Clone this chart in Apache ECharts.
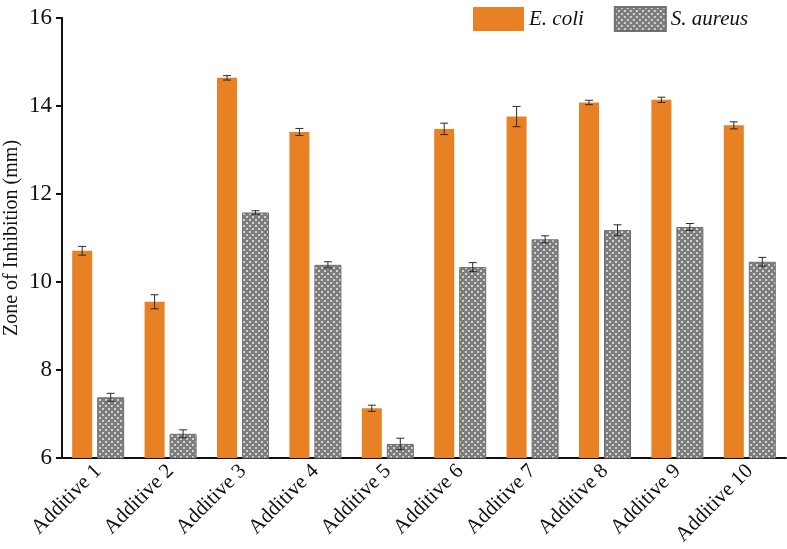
<!DOCTYPE html>
<html>
<head>
<meta charset="utf-8">
<script src="https://cdn.jsdelivr.net/npm/echarts@6/dist/echarts.min.js"></script>
<style>
  html, body { margin: 0; padding: 0; background: #fff; }
  #chart { width: 787px; height: 549px; }
</style>
</head>
<body>
<div id="chart"></div>
<script>
const categories = ["Additive 1", "Additive 2", "Additive 3", "Additive 4", "Additive 5",
  "Additive 6", "Additive 7", "Additive 8", "Additive 9", "Additive 10"];
const ecoli = [10.71, 9.55, 14.64, 13.41, 7.13, 13.48, 13.76, 14.08, 14.14, 13.56];
const ecoliErr = [0.1, 0.16, 0.05, 0.08, 0.07, 0.13, 0.23, 0.05, 0.06, 0.08];
const saureus = [7.38, 6.55, 11.58, 10.39, 6.32, 10.34, 10.97, 11.18, 11.25, 10.46];
const saureusErr = [0.09, 0.09, 0.04, 0.07, 0.13, 0.1, 0.08, 0.12, 0.08, 0.1];

// crosshatch tile for S. aureus bars
function hatch() {
  const c = document.createElement("canvas");
  c.width = 6; c.height = 6;
  const g = c.getContext("2d");
  g.fillStyle = "#7c7c7c";
  g.fillRect(0, 0, 6, 6);
  g.fillStyle = "#d2d2d2";
  g.fillRect(0, 0, 2, 2);
  g.fillRect(3, 3, 2, 2);
  return c;
}

const ORANGE_W = 20, GREY_W = 27, GAP = 5;
const half = (ORANGE_W + GAP + GREY_W) / 2;
const offOrange = -half + ORANGE_W / 2;
const offGrey = -half + ORANGE_W + GAP + GREY_W / 2;

function errRender(offset) {
  return function (params, api) {
    const i = api.value(0), v = api.value(1), e = api.value(2);
    const hi = api.coord([i, v + e]);
    const lo = api.coord([i, v - e]);
    const x = hi[0] + offset, w = 4;
    const st = { stroke: "#2a2a2a", lineWidth: 1 };
    return {
      type: "group",
      children: [
        { type: "line", shape: { x1: x, y1: hi[1], x2: x, y2: lo[1] }, style: st },
        { type: "line", shape: { x1: x - w, y1: hi[1], x2: x + w, y2: hi[1] }, style: st },
        { type: "line", shape: { x1: x - w, y1: lo[1], x2: x + w, y2: lo[1] }, style: st },
      ],
    };
  };
}

const font = "Liberation Serif";
const chart = echarts.init(document.getElementById("chart"));

chart.setOption({
  animation: false,
  textStyle: { fontFamily: font },
  grid: { left: 62, right: 1, top: 18, bottom: 91, outerBoundsMode: "none", containLabel: false },
  legend: {
    left: 468,
    top: 1,
    itemWidth: 51,
    itemHeight: 24,
    itemGap: 30,
    icon: "rect",
    textStyle: { fontFamily: font, fontSize: 21, fontStyle: "italic", color: "#111" },
    data: ["E. coli", "S. aureus"],
  },
  xAxis: {
    type: "category",
    data: categories,
    axisLine: { lineStyle: { color: "#111", width: 2 } },
    axisTick: { show: false },
    axisLabel: { rotate: 45, interval: 0, margin: 10, fontSize: 21, color: "#111", fontFamily: font },
  },
  yAxis: {
    type: "value",
    min: 6,
    max: 16,
    interval: 2,
    name: "Zone of Inhibition (mm)",
    nameLocation: "middle",
    nameGap: 40,
    nameMoveOverlap: false,
    nameTextStyle: { fontSize: 20, color: "#111", fontFamily: font },
    axisLine: { show: true, lineStyle: { color: "#111", width: 2 } },
    axisTick: { show: true, inside: false, length: 6, lineStyle: { color: "#111", width: 2 } },
    axisLabel: { fontSize: 23, color: "#111", margin: 10, fontFamily: font },
    splitLine: { show: false },
  },
  series: [
    {
      name: "E. coli",
      type: "bar",
      barWidth: ORANGE_W,
      barGap: "25%",
      data: ecoli,
      itemStyle: { color: "#e88124" },
    },
    {
      name: "S. aureus",
      type: "bar",
      barWidth: GREY_W,
      data: saureus,
      itemStyle: { color: { image: hatch(), repeat: "repeat" }, borderColor: "#707070", borderWidth: 1 },
    },
    {
      type: "custom",
      renderItem: errRender(offOrange),
      data: ecoli.map((v, i) => [i, v, ecoliErr[i]]),
      encode: { x: 0, y: 1 },
      z: 10,
      silent: true,
    },
    {
      type: "custom",
      renderItem: errRender(offGrey),
      data: saureus.map((v, i) => [i, v, saureusErr[i]]),
      encode: { x: 0, y: 1 },
      z: 10,
      silent: true,
    },
  ],
});
</script>
</body>
</html>
